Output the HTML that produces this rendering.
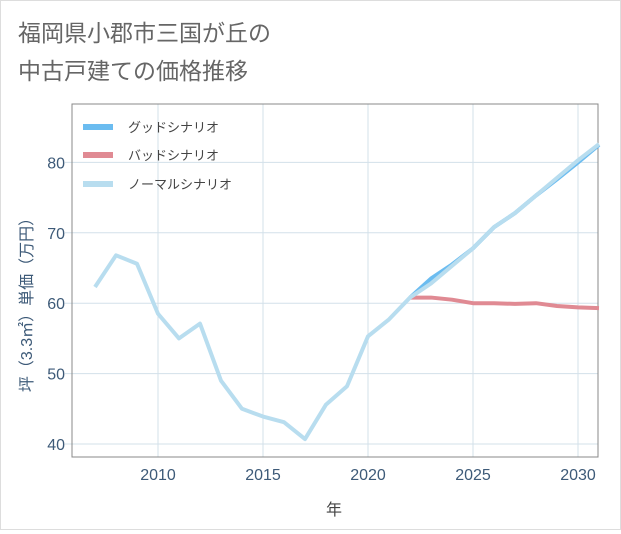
<!DOCTYPE html>
<html><head><meta charset="utf-8"><style>
body{margin:0;background:#fff;}
#wrap{position:relative;width:619px;height:528px;border:1px solid #ddd;background:#fff;font-family:"Liberation Sans","Noto Sans CJK JP",sans-serif;}
</style></head><body>
<div id="wrap">
<svg id="chart" width="619" height="528" xmlns="http://www.w3.org/2000/svg">
<text x="17" y="40" font-size="23" fill="#666">福岡県小郡市三国が丘の</text>
<text x="17" y="78" font-size="23" fill="#666">中古戸建ての価格推移</text>
<g id="grid"></g>
<rect x="71" y="103" width="526" height="353" fill="none" stroke="#888" stroke-width="1"/>
<g id="series"></g>
<g id="axes"></g>
<text x="333" y="514" font-size="16" fill="#444" text-anchor="middle">年</text>
<text transform="translate(31,300) rotate(-90)" font-size="16" fill="#3d5a78" text-anchor="middle">坪（3.3㎡）単価（万円）</text>
<g>
<line x1="82" y1="126" x2="112" y2="126" stroke="#6bbcf0" stroke-width="6"/>
<text x="127" y="131" font-size="13" fill="#444">グッドシナリオ</text>
<line x1="82" y1="154" x2="112" y2="154" stroke="#e08a93" stroke-width="6"/>
<text x="127" y="159" font-size="13" fill="#444">バッドシナリオ</text>
<line x1="82" y1="183" x2="112" y2="183" stroke="#b8ddef" stroke-width="6"/>
<text x="127" y="188" font-size="13" fill="#444">ノーマルシナリオ</text>
</g>
</svg>
</div>
<script>
const normalYears=[2007,2008,2009,2010,2011,2012,2013,2014,2015,2016,2017,2018,2019,2020,2021,2022,2023,2024,2025,2026,2027,2028,2029,2030,2031];
const normalValues=[62.3,66.8,65.6,58.5,55.0,57.1,49.0,45.0,43.9,43.1,40.7,45.6,48.2,55.3,57.7,60.8,62.8,65.3,67.8,70.8,72.8,75.3,77.8,80.3,82.6];
const goodYears=[2022,2023,2024,2025,2026,2027,2028,2029,2030,2031];
const goodValues=[60.8,63.5,65.5,67.8,70.8,72.8,75.3,77.6,80.0,82.5];
const badYears=[2022,2023,2024,2025,2026,2027,2028,2029,2030,2031];
const badValues=[60.8,60.8,60.5,60.0,60.0,59.9,60.0,59.6,59.4,59.3];
const xTicks=[2010,2015,2020,2025,2030];
const yTicks=[40,50,60,70,80];
const NS="http://www.w3.org/2000/svg";
function xs(y){return 157+(y-2010)*21;}
function ys(v){return 443-(v-40)*7.04;}
const grid=document.getElementById('grid'),axes=document.getElementById('axes'),ser=document.getElementById('series');
xTicks.forEach(t=>{
 const l=document.createElementNS(NS,'line');
 l.setAttribute('x1',xs(t));l.setAttribute('x2',xs(t));l.setAttribute('y1',103);l.setAttribute('y2',456);
 l.setAttribute('stroke','#d3e0ea');
 
 
 grid.appendChild(l);
 const tx=document.createElementNS(NS,'text');
 tx.setAttribute('x',xs(t));tx.setAttribute('y',479);tx.setAttribute('text-anchor','middle');tx.setAttribute('font-size','16');tx.setAttribute('fill','#3d5a78');
 tx.textContent=t;
 
 
 axes.appendChild(tx);
});
yTicks.forEach(t=>{
 const l=document.createElementNS(NS,'line');
 l.setAttribute('x1',64);l.setAttribute('x2',597);l.setAttribute('y1',ys(t));l.setAttribute('y2',ys(t));
 l.setAttribute('stroke','#d3e0ea');
 
 
 grid.appendChild(l);
 const tx=document.createElementNS(NS,'text');
 tx.setAttribute('x',64);tx.setAttribute('y',ys(t)+6);tx.setAttribute('text-anchor','end');tx.setAttribute('font-size','16');tx.setAttribute('fill','#3d5a78');
 tx.textContent=t;
 
 
 axes.appendChild(tx);
});
function line(xv,yv,color,name){
 const p=document.createElementNS(NS,'polyline');
 p.setAttribute('points',xv.map((x,i)=>xs(x)+','+ys(yv[i])).join(' '));
 p.setAttribute('fill','none');p.setAttribute('stroke',color);p.setAttribute('stroke-width','4');p.setAttribute('stroke-linejoin','round');
 
 
 ser.appendChild(p);
}
line(badYears,badValues,'#e08a93','bad-scenario-line');
line(goodYears,goodValues,'#6bbcf0','good-scenario-line');
line(normalYears,normalValues,'#b8ddef','normal-scenario-line');
</script>
</body></html>
